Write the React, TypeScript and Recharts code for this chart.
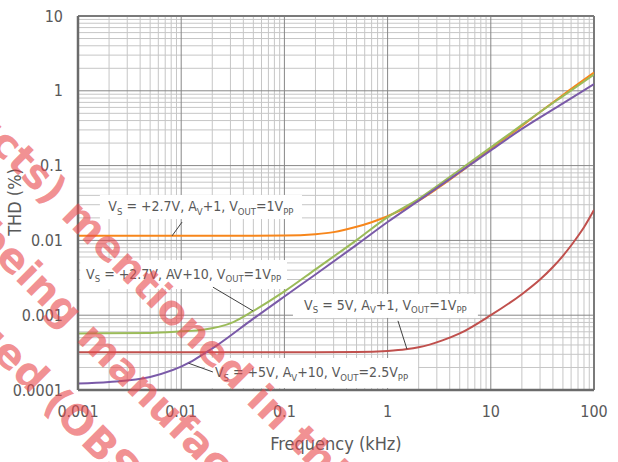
import React from 'react';
import { LineChart, Line, XAxis, YAxis, ReferenceLine, ReferenceArea } from 'recharts';

// Axis decades
const FREQ_TICKS = [0.001, 0.01, 0.1, 1, 10, 100];
const THD_TICKS = [0.0001, 0.001, 0.01, 0.1, 1, 10];
const MINOR_STEPS = [2, 3, 4, 5, 6, 7, 8, 9];

// THD (%) vs frequency (kHz) for each operating condition
const vs27Av1: [number, number][] = [
  [0.001, 0.0115], [0.01, 0.0115], [0.1, 0.0116], [0.2, 0.0121], [0.3, 0.0129],
  [0.5, 0.0152], [0.7, 0.0175], [1, 0.021], [2, 0.034], [3, 0.049], [5, 0.081],
  [10, 0.168], [20, 0.34], [30, 0.52], [50, 0.88], [100, 1.75],
];
const vs27Av10: [number, number][] = [
  [0.001, 0.00057], [0.005, 0.00058], [0.01, 0.00061], [0.0163, 0.00064], [0.032, 0.00081],
  [0.05, 0.00114], [0.1, 0.00208], [0.2, 0.0041], [0.5, 0.0101],
  [1, 0.0205], [2, 0.036], [5, 0.088], [10, 0.175], [20, 0.35], [50, 0.85], [100, 1.65],
];
const vs5Av10: [number, number][] = [
  [0.001, 0.000122], [0.002, 0.000128], [0.005, 0.000149], [0.0122, 0.000235],
  [0.0166, 0.000305], [0.0222, 0.000395], [0.05, 0.0009], [0.1, 0.00178],
  [0.2, 0.0035], [0.5, 0.0087], [1, 0.0176], [2, 0.034], [5, 0.082], [10, 0.16],
  [20, 0.31], [50, 0.68], [100, 1.23],
];
const vs5Av1: [number, number][] = [
  [0.001, 0.00032], [0.1, 0.00032], [0.5, 0.000322], [1, 0.000333], [1.5, 0.00035],
  [2, 0.000372], [3.4, 0.00046], [5, 0.00057], [10, 0.001], [20, 0.00191],
  [30, 0.003], [40, 0.00441], [50, 0.00623], [60, 0.00855], [70, 0.01145],
  [80, 0.015], [100, 0.0255],
];

const toRows = (pts: [number, number][]) => pts.map(([freq, thd]) => ({ freq, thd }));

const FONT = "'DejaVu Sans Condensed', 'DejaVu Sans', sans-serif";
const TEXT = '#595959';

const minorFreq = FREQ_TICKS.slice(0, -1).flatMap((d) => MINOR_STEPS.map((m) => +(m * d).toPrecision(3)));
const minorThd = THD_TICKS.slice(0, -1).flatMap((d) => MINOR_STEPS.map((m) => +(m * d).toPrecision(3)));

type Part = [string, string];
// Callout boxes and leader lines, in data units
const callouts: { box: [number, number, number, number]; lead: [number, number, number, number]; parts: Part[] }[] = [
  {
    box: [0.00163, 0.148, 0.0193, 0.0405],
    lead: [0.0102, 0.0176, 0.00815, 0.0115],
    parts: [['V', 'S'], [' = +2.7V, A', 'V'], ['+1, V', 'OUT'], ['=1V', 'PP']],
  },
  {
    box: [0.00105, 0.106, 0.00224, 0.00547],
    lead: [0.0203, 0.00237, 0.0497, 0.00114],
    parts: [['V', 'S'], [' = +2.7V, AV+10, V', 'OUT'], ['=1V', 'PP']],
  },
  {
    box: [0.121, 7.5, 0.00092, 0.00192],
    lead: [1.26, 0.00084, 1.54, 0.000352],
    parts: [['V', 'S'], [' = 5V, A', 'V'], ['+1, V', 'OUT'], ['=1V', 'PP']],
  },
  {
    box: [0.017, 1.97, 0.000106, 0.000268],
    lead: [0.0203, 0.000174, 0.0118, 0.000228],
    parts: [['V', 'S'], [' = +5V, A', 'V'], ['+10, V', 'OUT'], ['=2.5V', 'PP']],
  },
];

function CalloutText(props: any) {
  const { x, y, width, height, parts } = props;
  const nodes: React.ReactNode[] = [];
  parts.forEach(([main, sub]: Part, i: number) => {
    nodes.push(<tspan key={'m' + i} dy={i === 0 ? 0 : -3.5} fontSize={14}>{main}</tspan>);
    nodes.push(<tspan key={'s' + i} dy={3.5} fontSize={9.5}>{sub}</tspan>);
  });
  return (
    <g>
      <rect x={x} y={y} width={width} height={height} fill="#ffffff" />
      <text x={x + width / 2} y={y + height / 2 + 4} textAnchor="middle" fill={TEXT} fontFamily={FONT}>
        {nodes}
      </text>
    </g>
  );
}

function XTick(props: any) {
  const { x, y, payload } = props;
  return (
    <text x={x} y={y + 27} textAnchor="middle" fontSize={16} fill={TEXT} fontFamily={FONT}>
      {String(payload.value)}
    </text>
  );
}

function YTick(props: any) {
  const { x, y, payload } = props;
  return (
    <text x={x - 15} y={y + 5.5} textAnchor="end" fontSize={16} fill={TEXT} fontFamily={FONT}>
      {String(payload.value)}
    </text>
  );
}

const series = [
  { name: 'vs27Av1', rows: toRows(vs27Av1), color: '#f7861b' },
  { name: 'vs27Av10', rows: toRows(vs27Av10), color: '#9bbb59' },
  { name: 'vs5Av1', rows: toRows(vs5Av1), color: '#c0504d' },
  { name: 'vs5Av10', rows: toRows(vs5Av10), color: '#7a5aa8' },
];

export default function App() {
  return (
    <div style={{ position: 'absolute', left: 0, top: 0, width: 618, height: 462, background: '#fff' }}>
      <LineChart width={618} height={462} margin={{ top: 16, right: 24, bottom: 0, left: 0 }}>
        <XAxis
          dataKey="freq"
          type="number"
          scale="log"
          domain={[0.001, 100]}
          ticks={FREQ_TICKS}
          interval={0}
          allowDataOverflow
          height={72}
          tickLine={false}
          tickSize={0}
          tickMargin={0}
          tick={<XTick />}
          axisLine={{ stroke: '#6b6b6b', strokeWidth: 2.5 }}
        />
        <YAxis
          dataKey="thd"
          type="number"
          scale="log"
          domain={[0.0001, 10]}
          ticks={THD_TICKS}
          interval={0}
          allowDataOverflow
          width={78}
          tickLine={false}
          tickSize={0}
          tickMargin={0}
          tick={<YTick />}
          axisLine={{ stroke: '#6b6b6b', strokeWidth: 2.5 }}
        />
        {minorFreq.map((f) => (
          <ReferenceLine key={'vf' + f} x={f} stroke="#c6c6c6" strokeWidth={1} zIndex={-100} />
        ))}
        {minorThd.map((v) => (
          <ReferenceLine key={'hf' + v} y={v} stroke="#c6c6c6" strokeWidth={1} zIndex={-100} />
        ))}
        {FREQ_TICKS.slice(1, -1).map((f) => (
          <ReferenceLine key={'vm' + f} x={f} stroke="#878787" strokeWidth={1} zIndex={-90} />
        ))}
        {THD_TICKS.slice(1, -1).map((v) => (
          <ReferenceLine key={'hm' + v} y={v} stroke="#878787" strokeWidth={1} zIndex={-90} />
        ))}
        <ReferenceLine y={10} stroke="#7a7a7a" strokeWidth={2} zIndex={-80} />
        <ReferenceLine x={100} stroke="#7a7a7a" strokeWidth={2} zIndex={-80} />
        {callouts.map((c, i) => (
          <ReferenceArea
            key={'box' + i}
            x1={c.box[0]}
            x2={c.box[1]}
            y1={c.box[2]}
            y2={c.box[3]}
            zIndex={-50}
            shape={(p: any) => <CalloutText {...p} parts={c.parts} />}
          />
        ))}
        {series.map((s) => (
          <Line
            key={s.name}
            data={s.rows}
            dataKey="thd"
            type="monotone"
            stroke={s.color}
            strokeWidth={2}
            dot={false}
            activeDot={false}
            isAnimationActive={false}
          />
        ))}
        {callouts.map((c, i) => (
          <ReferenceLine
            key={'lead' + i}
            segment={[{ x: c.lead[0], y: c.lead[1] }, { x: c.lead[2], y: c.lead[3] }]}
            stroke="#404040"
            strokeWidth={1}
            zIndex={450}
          />
        ))}
      </LineChart>
      <svg
        width={618}
        height={462}
        style={{ position: 'absolute', left: 0, top: 0, pointerEvents: 'none' }}
      >
        <text x={336} y={450} textAnchor="middle" fontSize={18} fill={TEXT} fontFamily={FONT}>
          Frequency (kHz)
        </text>
        <text
          x={0}
          y={0}
          transform="translate(21, 202) rotate(-90)"
          textAnchor="middle"
          fontSize={18}
          fill={TEXT}
          fontFamily={FONT}
        >
          THD (%)
        </text>
        <g
          transform="translate(100, 240) rotate(45)"
          fill="#e8474a"
          fillOpacity={0.6}
          fontSize={41}
          fontWeight="bold"
          fontFamily="'DejaVu Sans', sans-serif"
        >
          <text x={-59} y={12} textAnchor="end">(Products)</text>
          <text x={-45} y={12}>mentioned in this document</text>
          <text x={39} y={88} textAnchor="end">no longer being</text>
          <text x={53} y={88}>manufactured</text>
          <text x={61} y={158} textAnchor="end">are discontinued</text>
          <text x={75} y={158}>(OBSOLETE)</text>
        </g>
      </svg>
    </div>
  );
}
